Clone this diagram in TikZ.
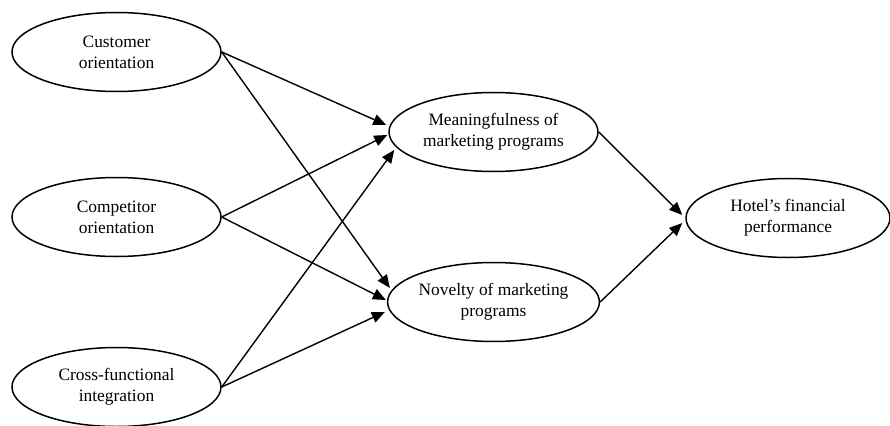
\documentclass[tikz,border=0pt]{standalone}
\usepackage{fontspec}
\setmainfont{Liberation Serif}
\usetikzlibrary{shapes.geometric,arrows.meta,calc}
\begin{document}
\begin{tikzpicture}[x=1pt,y=-1pt,
  construct/.style={ellipse,draw,line width=1.5pt,minimum width=209pt,minimum height=79pt,inner sep=0pt,align=center,
    font=\fontsize{17.4}{21}\selectfont},
  path/.style={line width=1.4pt,-{Triangle[length=13pt,width=11pt]}}]
\useasboundingbox (0,0) rectangle (890,425);
\node[construct] (cust) at (116.5,52) {Customer\\orientation};
\node[construct] (comp) at (116.5,217) {Competitor\\orientation};
\node[construct] (cross) at (116.5,387) {Cross-functional\\integration};
\node[construct] (mean) at (493.5,132) {Meaningfulness of\\marketing programs};
\node[construct] (nov) at (493.5,302) {Novelty of marketing\\programs};
\node[construct,minimum width=204pt] (hot) at (788,218) {Hotel’s financial\\performance};
\draw[path] (cust.east) -- ($(mean.west)+(-2,-7)$);
\draw[path] (comp.east) -- ($(mean.west)+(-1,3)$);
\draw[path] (cross.east) -- ($(mean.west)+(6,18)$);
\draw[path] (cust.east) -- ($(nov.west)+(3,-14)$);
\draw[path] (comp.east) -- ($(nov.west)+(-1,-2)$);
\draw[path] (cross.east) -- ($(nov.west)+(-2,10)$);
\draw[path] (mean.east) -- ($(hot.west)+(-3,-3)$);
\draw[path] (nov.east) -- ($(hot.west)+(-3,5)$);
\end{tikzpicture}
\end{document}
